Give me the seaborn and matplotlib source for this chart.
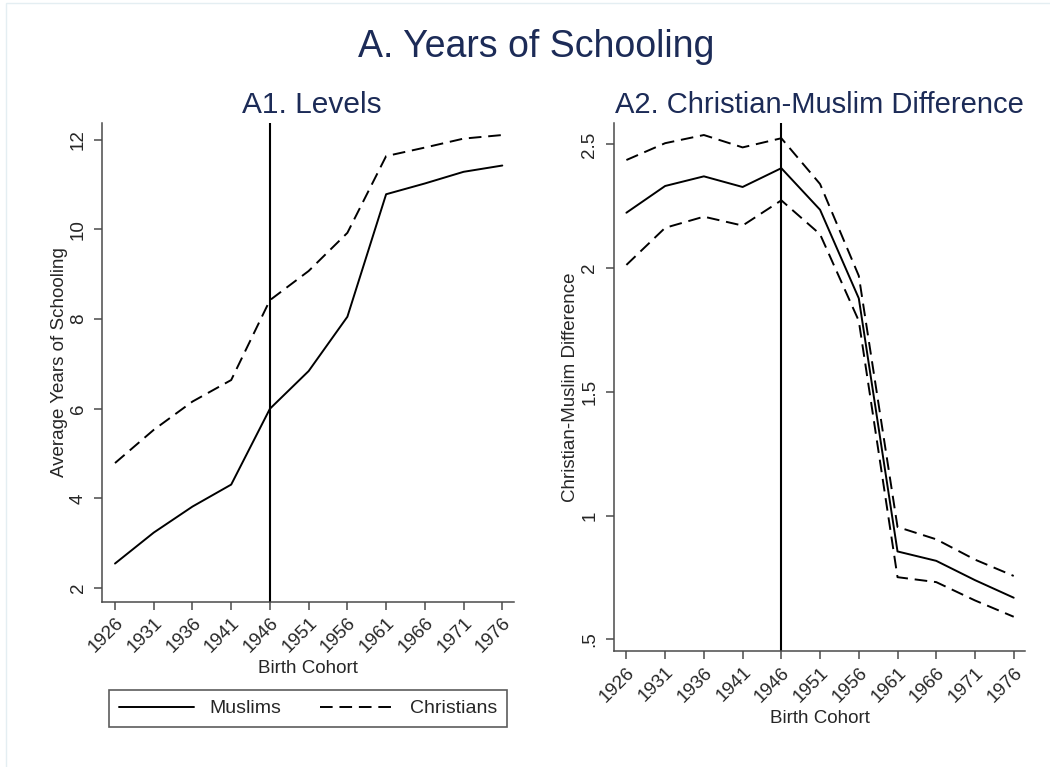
import numpy as np
import pandas as pd
import matplotlib.pyplot as plt
import seaborn as sns
from matplotlib.lines import Line2D
from matplotlib.patches import Rectangle

sns.set_style("ticks")
plt.rcParams["font.family"] = ["Liberation Sans", "DejaVu Sans"]

# Data
cohorts = [1926, 1931, 1936, 1941, 1946, 1951, 1956, 1961, 1966, 1971, 1976]
muslims = [2.55, 3.24, 3.82, 4.31, 6.00, 6.84, 8.05, 10.78, 11.02, 11.28, 11.42]
christians = [4.79, 5.53, 6.16, 6.64, 8.42, 9.07, 9.92, 11.63, 11.82, 12.02, 12.10]
diff = [2.224, 2.332, 2.371, 2.328, 2.404, 2.236, 1.878, 0.855, 0.817, 0.739, 0.668]
diff_hi = [2.437, 2.505, 2.538, 2.488, 2.525, 2.340, 1.969, 0.954, 0.904, 0.822, 0.756]
diff_lo = [2.013, 2.163, 2.208, 2.172, 2.274, 2.137, 1.787, 0.751, 0.731, 0.657, 0.591]
event_year = 1946

levels_ticks = [2, 4, 6, 8, 10, 12]
diff_ticks = [0.5, 1, 1.5, 2, 2.5]
diff_tick_labels = [".5", "1", "1.5", "2", "2.5"]

title_col = "#1c2b57"
spine_col = "#4a4a4a"
dash = (6.5, 3.5)
lw = 1.4
W, H = 1050, 767

fig = plt.figure(figsize=(10.5, 7.67), dpi=100)
fig.patches.append(Rectangle((6 / W, -0.01), 1.05, 1 - 3 / H + 0.01,
                             transform=fig.transFigure, fill=False,
                             edgecolor="#e4eef2", lw=1))

ax1 = fig.add_axes([102.3 / W, (H - 601.7) / H, 411.7 / W, 478.8 / H])
ax2 = fig.add_axes([613.7 / W, (H - 651.4) / H, 411.7 / W, 528.5 / H])

# Panel A1: levels
sns.lineplot(x=cohorts, y=muslims, ax=ax1, color="black", lw=lw)
sns.lineplot(x=cohorts, y=christians, ax=ax1, color="black", lw=lw,
             linestyle=(0, dash))
ax1.axvline(event_year, color="black", lw=1.5)
ax1.set_ylim(1.70, 12.37)
ax1.set_yticks(levels_ticks)
ax1.set_yticklabels([str(t) for t in levels_ticks], rotation=90, va="center")
ax1.set_ylabel("Average Years of Schooling", fontsize=13.5, labelpad=1.5)
ax1.set_title("A1. Levels", fontsize=21.5, color=title_col, pad=7, x=0.51)

# Panel A2: difference with bands
sns.lineplot(x=cohorts, y=diff, ax=ax2, color="black", lw=lw)
for band in (diff_hi, diff_lo):
    sns.lineplot(x=cohorts, y=band, ax=ax2, color="black", lw=lw,
                 linestyle=(0, dash))
ax2.axvline(event_year, color="black", lw=1.5)
ax2.set_ylim(0.451, 2.587)
ax2.set_yticks(diff_ticks)
ax2.set_yticklabels(diff_tick_labels, rotation=90, va="center")
ax2.set_ylabel("Christian-Muslim Difference", fontsize=13.5, labelpad=1.5)
ax2.set_title("A2. Christian-Muslim Difference", fontsize=21, color=title_col, pad=7)

for ax in (ax1, ax2):
    sns.despine(ax=ax)
    ax.set_xlim(1924.36, 1977.51)
    ax.set_xticks(cohorts)
    ax.set_xticklabels([str(c) for c in cohorts], rotation=45, ha="right",
                       rotation_mode="anchor")
    ax.tick_params(axis="both", length=6, width=1.1, color=spine_col,
                   labelsize=13.5)
    ax.tick_params(axis="x", pad=3)
    ax.tick_params(axis="y", pad=5)
    ax.set_xlabel("Birth Cohort", fontsize=13.5, labelpad=3)
    for s in ("left", "bottom"):
        ax.spines[s].set_color(spine_col)
        ax.spines[s].set_linewidth(1.1)

fig.suptitle("A. Years of Schooling", fontsize=27, color=title_col, x=0.511, y=0.962)

handles = [Line2D([], [], color="black", lw=lw),
           Line2D([], [], color="black", lw=lw, linestyle=(0, dash))]
leg = fig.legend(handles, ["Muslims", "Christians"], ncol=2, fontsize=14,
                 loc="center", bbox_to_anchor=(308.2 / W, 1 - 708.5 / H),
                 frameon=True, fancybox=False, handlelength=3.85,
                 columnspacing=2.0, handletextpad=0.8, borderpad=0.5)
leg.get_frame().set_edgecolor("#333333")
leg.get_frame().set_linewidth(1.2)

fig.savefig("out.png", dpi=100)
